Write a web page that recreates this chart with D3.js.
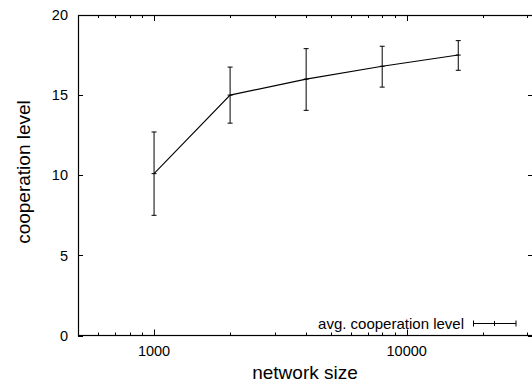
<!DOCTYPE html>
<html>
<head>
<meta charset="utf-8">
<script src="https://cdn.jsdelivr.net/npm/d3@7"></script>
<style>
html,body{margin:0;padding:0;background:#fff;}
svg{display:block;}
text{font-family:"Liberation Sans",Arial,Helvetica,sans-serif;fill:#000;}
</style>
</head>
<body>
<svg id="chart" width="532" height="385"></svg>
<script>
// ---- data ----
const networkSizes = [1000, 2000, 4000, 8000, 16000];
const avgCooperation = [10.1, 15.0, 16.0, 16.8, 17.5];
const errLower = [7.5, 13.25, 14.05, 15.5, 16.55];
const errUpper = [12.7, 16.75, 17.9, 18.05, 18.4];
const yTicks = [0, 5, 10, 15, 20];
const xMajorTicks = [1000, 10000];
const xMinorTicks = [600, 700, 800, 900, 2000, 3000, 4000, 5000, 6000, 7000, 8000, 9000, 20000, 30000];
const seriesLabel = "avg. cooperation level";
const xTitle = "network size";
const yTitle = "cooperation level";

// ---- layout ----
const L = 78, R = 533, T = 15, B = 335.5;
const svg = d3.select("#chart");
const x = d3.scaleLog().domain([500, Math.pow(10, 4.5)]).range([L, R]);
const y = d3.scaleLinear().domain([0, 20]).range([B, T]);

const g = svg.append("g");

// ticks (gnuplot style: inward, mirrored)
const majorLen = 6, minorLen = 3;
const tickG = g.append("g").attr("stroke", "#000").attr("stroke-width", 1);
xMajorTicks.forEach(v => {
  const px = Math.round(x(v)) + 0.5;
  tickG.append("line").attr("x1", px).attr("x2", px).attr("y1", B).attr("y2", B - majorLen);
  tickG.append("line").attr("x1", px).attr("x2", px).attr("y1", T).attr("y2", T + majorLen);
});
xMinorTicks.forEach(v => {
  const px = Math.round(x(v)) + 0.5;
  tickG.append("line").attr("x1", px).attr("x2", px).attr("y1", B).attr("y2", B - minorLen);
  tickG.append("line").attr("x1", px).attr("x2", px).attr("y1", T).attr("y2", T + minorLen);
});
yTicks.forEach(v => {
  const py = Math.round(y(v)) + 0.5;
  tickG.append("line").attr("x1", L).attr("x2", L + 5).attr("y1", py).attr("y2", py);
  tickG.append("line").attr("x1", R).attr("x2", R - 5).attr("y1", py).attr("y2", py);
});

// frame
g.append("rect").attr("x", L + 0.5).attr("y", T + 0.5)
  .attr("width", R - L).attr("height", B - T - 0.5)
  .attr("fill", "none").attr("stroke", "#000").attr("stroke-width", 1.2);

// tick labels
g.selectAll(".ylab").data(yTicks).enter().append("text")
  .attr("x", L - 10).attr("y", d => y(d)).attr("dy", "0.36em")
  .attr("text-anchor", "end").style("font-size", "14.5px").text(d => d);
g.selectAll(".xlab").data(xMajorTicks).enter().append("text")
  .attr("x", d => x(d)).attr("y", 356)
  .attr("text-anchor", "middle").style("font-size", "14.5px").text(d => d);

// axis titles
g.append("text").attr("x", (L + 532) / 2 + 0).attr("y", 379)
  .attr("text-anchor", "middle").style("font-size", "19px").text(xTitle);
g.append("text").attr("transform", "translate(30,172) rotate(-90)")
  .attr("text-anchor", "middle").style("font-size", "19px").text(yTitle);

// data line
const line = d3.line().x(d => x(d[0])).y(d => y(d[1]));
const pts = networkSizes.map((s, i) => [s, avgCooperation[i]]);
g.append("path").datum(pts).attr("d", line)
  .attr("fill", "none").attr("stroke", "#000").attr("stroke-width", 1.1);

// error bars
const cap = 2.5, mk = 2.5;
const eb = g.append("g").attr("stroke", "#000").attr("stroke-width", 1);
networkSizes.forEach((s, i) => {
  const px = x(s);
  eb.append("line").attr("x1", px).attr("x2", px).attr("y1", y(errLower[i])).attr("y2", y(errUpper[i]));
  eb.append("line").attr("x1", px - cap).attr("x2", px + cap).attr("y1", y(errLower[i])).attr("y2", y(errLower[i]));
  eb.append("line").attr("x1", px - cap).attr("x2", px + cap).attr("y1", y(errUpper[i])).attr("y2", y(errUpper[i]));
  eb.append("line").attr("x1", px - mk).attr("x2", px + mk).attr("y1", y(avgCooperation[i])).attr("y2", y(avgCooperation[i]));
});

// legend
const lg = g.append("g");
lg.append("text").attr("x", 464).attr("y", 329).attr("text-anchor", "end")
  .style("font-size", "15px").text(seriesLabel);
const ly = 323.5, lx1 = 473.5, lx2 = 516, lxm = 494.5;
const ls = lg.append("g").attr("stroke", "#000").attr("stroke-width", 1);
ls.append("line").attr("x1", lx1).attr("x2", lx2).attr("y1", ly).attr("y2", ly);
ls.append("line").attr("x1", lx1).attr("x2", lx1).attr("y1", ly - 3).attr("y2", ly + 3);
ls.append("line").attr("x1", lx2).attr("x2", lx2).attr("y1", ly - 3).attr("y2", ly + 3);
ls.append("line").attr("x1", lxm).attr("x2", lxm).attr("y1", ly - 2.5).attr("y2", ly + 2.5);
</script>
</body>
</html>
